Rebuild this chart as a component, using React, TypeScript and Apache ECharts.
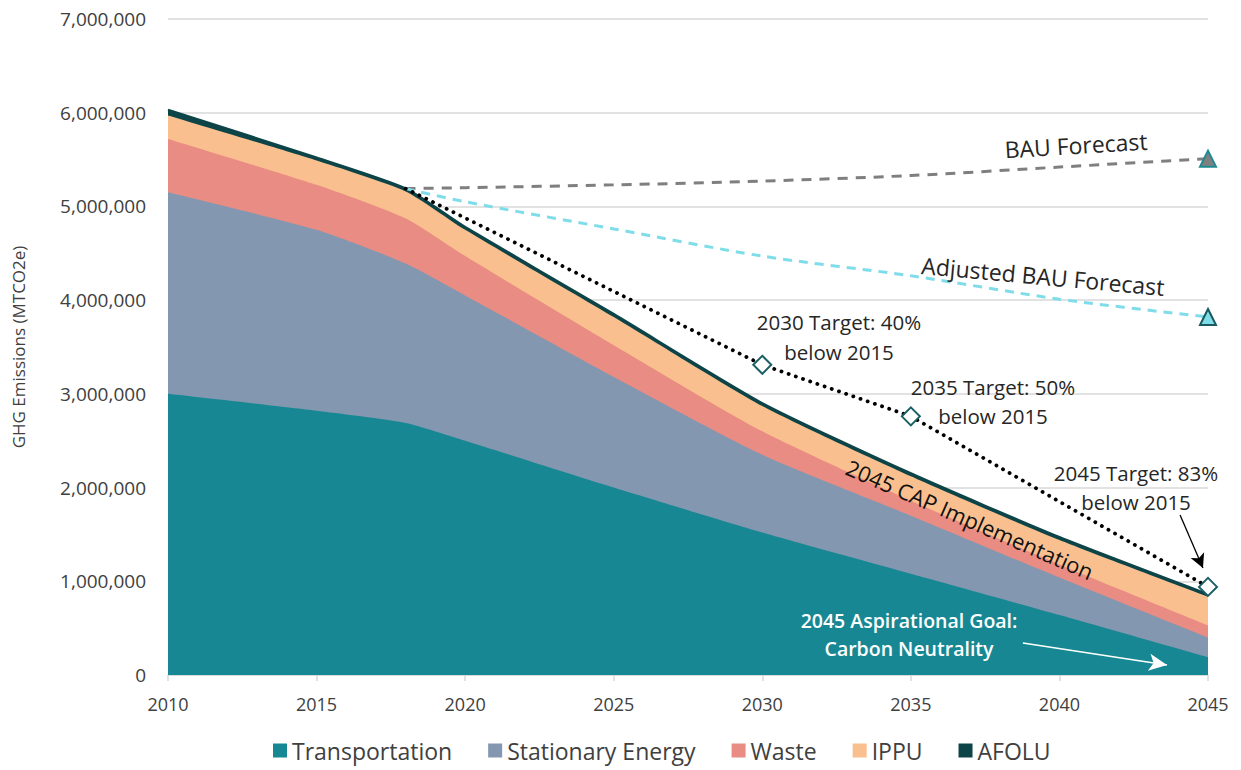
import React, { useEffect, useRef } from "react";
import * as echarts from "echarts";

const years = [2010, 2015, 2018, 2020, 2025, 2030, 2035, 2040, 2045];
const transportation = [3000000, 2820000, 2690000, 2500000, 2000000, 1520000, 1080000, 640000, 190000];
const stationaryEnergy = [2150000, 1930000, 1700000, 1550000, 1180000, 830000, 620000, 400000, 210000];
const waste = [570000, 480000, 480000, 420000, 340000, 250000, 160000, 140000, 130000];
const ippu = [250000, 260000, 290000, 280000, 300000, 270000, 260000, 260000, 305000];
const afolu = [60000, 30000, 30000, 30000, 30000, 30000, 30000, 30000, 25000];

const forecastYears = [2018, 2020, 2025, 2030, 2035, 2040, 2045];
const bauForecast = [5190000, 5200000, 5230000, 5270000, 5330000, 5420000, 5510000];
const adjustedBau = [5190000, 5050000, 4760000, 4470000, 4260000, 4010000, 3820000];

const targetYears = [2018, 2030, 2035, 2045];
const targetValues = [5190000, 3310000, 2760000, 940000];

const xTicks = [2010, 2015, 2020, 2025, 2030, 2035, 2040, 2045];
const yMax = 7000000;
const yStep = 1000000;

const FONT = "'Open Sans', 'Noto Sans', sans-serif";
const TEXT = "#262626";

const layers = [
  { name: "Transportation", values: transportation, color: "#178893" },
  { name: "Stationary Energy", values: stationaryEnergy, color: "#8497b0" },
  { name: "Waste", values: waste, color: "#e98c83" },
  { name: "IPPU", values: ippu, color: "#f9bf8f" },
  { name: "AFOLU", values: afolu, color: "#0d4448" },
];

export default function App() {
  const ref = useRef<HTMLDivElement>(null);
  useEffect(() => {
    document.body.style.margin = "0";
    if (!ref.current) return;
    const chart = echarts.init(ref.current, undefined, { renderer: "svg" });

    // cumulative tops of each layer (stack), drawn from the top layer down so fills overlap like a stack
    const cumulative: number[][] = [];
    layers.forEach((l, li) => {
      cumulative.push(l.values.map((v, i) => v + (li > 0 ? cumulative[li - 1][i] : 0)));
    });

    const areaSeries = layers
      .map((l, li) => ({
        type: "line",
        name: l.name,
        smooth: 0.2,
        symbol: "none",
        data: years.map((y, i) => [y, cumulative[li][i]]),
        itemStyle: { color: l.color },
        lineStyle: l.name === "AFOLU" ? { width: 2.5, color: "#0d4448" } : { width: 0 },
        areaStyle: { color: l.color, opacity: 1 },
        z: 2,
      }))
      .reverse();

    const option: any = {
      animation: false,
      textStyle: { fontFamily: FONT },
      grid: { left: 168, right: 33, top: 19, bottom: 95, outerBoundsMode: "none", containLabel: false },
      xAxis: {
        type: "value",
        min: 2010,
        max: 2045,
        interval: 5,
        axisLine: { show: true, lineStyle: { color: "#d9d9d9", width: 1.5 } },
        axisTick: { show: true, length: 6, lineStyle: { color: "#d9d9d9", width: 1.5 } },
        splitLine: { show: false },
        axisLabel: {
          margin: 20,
          fontSize: 18,
          color: "#404040",
          fontFamily: FONT,
          formatter: (v: number) => (xTicks.includes(v) ? String(v) : ""),
        },
      },
      yAxis: {
        type: "value",
        min: 0,
        max: yMax,
        interval: yStep,
        name: "GHG Emissions (MTCO2e)",
        nameLocation: "middle",
        nameGap: 141,
        nameTextStyle: { fontSize: 17, color: "#404040", fontFamily: FONT },
        axisLine: { show: false },
        axisTick: { show: false },
        splitLine: { lineStyle: { color: "#d9d9d9", width: 1.5 } },
        axisLabel: {
          margin: 22,
          fontSize: 19,
          color: "#404040",
          fontFamily: FONT,
          formatter: (v: number) => v.toLocaleString("en-US"),
        },
      },
      legend: {
        data: layers.map((l) => l.name),
        bottom: 3,
        left: 268,
        icon: "rect",
        itemWidth: 14,
        itemHeight: 14,
        itemGap: 36,
        textStyle: { fontSize: 23, color: "#404040", fontFamily: FONT },
      },
      series: [
        ...areaSeries,
        {
          type: "line",
          name: "BAU Forecast",
          data: forecastYears.map((y, i) => [y, bauForecast[i]]),
          smooth: 0.3,
          symbol: (v: number[]) => (v[0] === 2045 ? "triangle" : "none"),
          symbolSize: 16,
          itemStyle: { color: "#7f7f7f", borderColor: "#1f8a93", borderWidth: 2 },
          lineStyle: { color: "#7f7f7f", width: 3, type: [10, 8] },
          z: 5,
        },
        {
          type: "line",
          name: "Adjusted BAU Forecast",
          data: forecastYears.map((y, i) => [y, adjustedBau[i]]),
          smooth: 0.3,
          symbol: (v: number[]) => (v[0] === 2045 ? "triangle" : "none"),
          symbolSize: 16,
          itemStyle: { color: "#7fdde9", borderColor: "#1a5a5f", borderWidth: 2 },
          lineStyle: { color: "#7fdde9", width: 3, type: [9, 7] },
          z: 5,
        },
        {
          type: "line",
          name: "Targets",
          data: targetYears.map((y, i) => [y, targetValues[i]]),
          symbol: (v: number[]) => (v[0] === 2018 ? "none" : "diamond"),
          symbolSize: 18,
          itemStyle: { color: "#ffffff", borderColor: "#1a5f66", borderWidth: 2 },
          lineStyle: { color: "#000000", width: 3.8, type: [0.1, 7.5], cap: "round" },
          z: 6,
          markLine: {
            silent: true,
            label: { show: false },
            data: [
              [
                { coord: [2044.06, 1707000], symbol: "none", lineStyle: { color: "#000", width: 1.3, type: "solid" } },
                { coord: [2044.83, 1142000], symbol: "arrow", symbolSize: [11, 14] },
              ],
              [
                { coord: [2038.77, 341000], symbol: "none", lineStyle: { color: "#fff", width: 1.5, type: "solid" } },
                { coord: [2043.62, 107000], symbol: "arrow", symbolSize: [13, 18] },
              ],
            ],
          },
        },
      ],
      graphic: [
        {
          type: "text", x: 1076, y: 145, rotation: 0.06, z: 100,
          style: { text: "BAU Forecast", align: "center", verticalAlign: "middle", fontSize: 23, fontFamily: FONT, fill: TEXT },
        },
        {
          type: "text", x: 1043, y: 276, rotation: -0.09, z: 100,
          style: { text: "Adjusted BAU Forecast", align: "center", verticalAlign: "middle", fontSize: 23, fontFamily: FONT, fill: TEXT },
        },
        {
          type: "text", x: 839, y: 337, z: 100,
          style: { text: "2030 Target: 40%\nbelow 2015", align: "center", verticalAlign: "middle", fontSize: 20.5, lineHeight: 30, fontFamily: FONT, fill: TEXT },
        },
        {
          type: "text", x: 993, y: 401, z: 100,
          style: { text: "2035 Target: 50%\nbelow 2015", align: "center", verticalAlign: "middle", fontSize: 20.5, lineHeight: 29, fontFamily: FONT, fill: TEXT },
        },
        {
          type: "text", x: 1136, y: 487, z: 100,
          style: { text: "2045 Target: 83%\nbelow 2015", align: "center", verticalAlign: "middle", fontSize: 20.5, lineHeight: 29, fontFamily: FONT, fill: TEXT },
        },
        {
          type: "text", x: 970, y: 519, rotation: -0.41, z: 100,
          style: { text: "2045 CAP Implementation", align: "center", verticalAlign: "middle", fontSize: 22, fontFamily: FONT, fill: "#111" },
        },
        {
          type: "text", x: 909, y: 634, z: 100,
          style: { text: "2045 Aspirational Goal:\nCarbon Neutrality", align: "center", verticalAlign: "middle", fontSize: 19.5, fontWeight: 600, lineHeight: 28, fontFamily: FONT, fill: "#ffffff" },
        },
      ],
    };
    chart.setOption(option);
    return () => chart.dispose();
  }, []);
  return <div ref={ref} style={{ width: 1241, height: 770 }} />;
}
